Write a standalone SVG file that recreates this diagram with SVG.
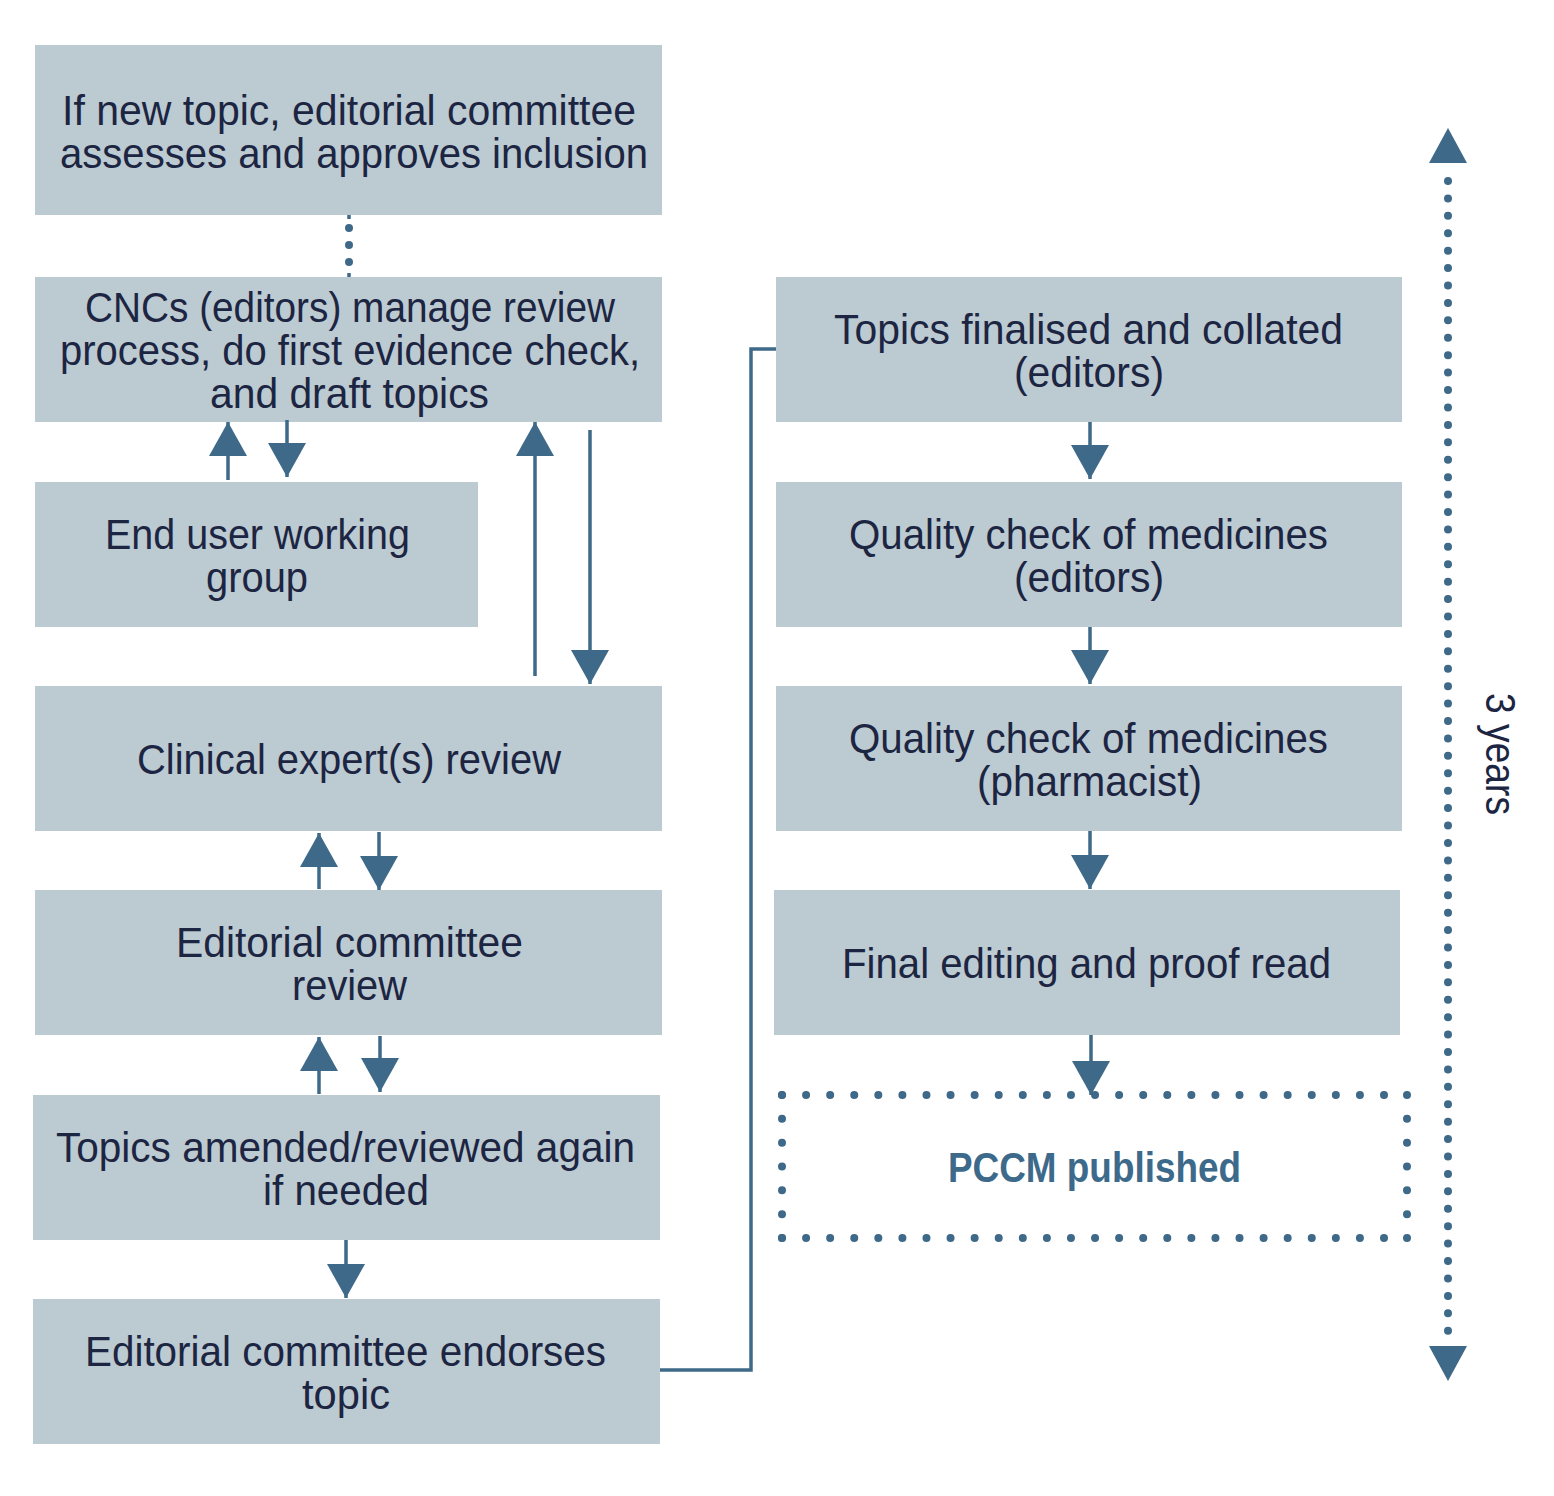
<svg xmlns="http://www.w3.org/2000/svg" width="1554" height="1496" viewBox="0 0 1554 1496">
<style>
.box{fill:#bccad2;}
.t{font-family:"Liberation Sans",Arial,sans-serif;font-size:43px;fill:#1c2541;}
.pub{font-family:"Liberation Sans",Arial,sans-serif;font-size:42px;font-weight:bold;fill:#3d6a8b;}
.ln{stroke:#3e6988;stroke-width:3.5;fill:none;}
.ar{stroke:#3e6988;stroke-width:3.5;fill:none;marker-end:url(#ah);}
.dot{stroke:#3e6988;stroke-width:8;stroke-linecap:round;fill:none;}
</style>
<defs>
<marker id="ah" markerUnits="userSpaceOnUse" markerWidth="36" markerHeight="40" refX="34" refY="19" orient="auto">
<path d="M0,0 L34,19 L0,38 Z" fill="#3e6988"/>
</marker>
</defs>
<rect width="1554" height="1496" fill="#ffffff"/>

<g id="n1"><rect class="box" x="35" y="45" width="627" height="170"/>
<text class="t" x="62" y="125" textLength="574" lengthAdjust="spacingAndGlyphs">If new topic, editorial committee</text>
<text class="t" x="60" y="168" textLength="588" lengthAdjust="spacingAndGlyphs">assesses and approves inclusion</text></g>

<g id="n2"><rect class="box" x="35" y="277" width="627" height="145"/>
<text class="t" x="85" y="322" textLength="530" lengthAdjust="spacingAndGlyphs">CNCs (editors) manage review</text>
<text class="t" x="60" y="365" textLength="580" lengthAdjust="spacingAndGlyphs">process, do first evidence check,</text>
<text class="t" x="210" y="408" textLength="279" lengthAdjust="spacingAndGlyphs">and draft topics</text></g>

<g id="n3"><rect class="box" x="35" y="482" width="443" height="145"/>
<text class="t" x="105" y="549" textLength="305" lengthAdjust="spacingAndGlyphs">End user working</text>
<text class="t" x="206" y="592" textLength="102" lengthAdjust="spacingAndGlyphs">group</text></g>

<g id="n4"><rect class="box" x="35" y="686" width="627" height="145"/>
<text class="t" x="137" y="774" textLength="424" lengthAdjust="spacingAndGlyphs">Clinical expert(s) review</text></g>

<g id="n5"><rect class="box" x="35" y="890" width="627" height="145"/>
<text class="t" x="176" y="957" textLength="347" lengthAdjust="spacingAndGlyphs">Editorial committee</text>
<text class="t" x="292" y="1000" textLength="115" lengthAdjust="spacingAndGlyphs">review</text></g>

<g id="n6"><rect class="box" x="33" y="1095" width="627" height="145"/>
<text class="t" x="56" y="1162" textLength="579" lengthAdjust="spacingAndGlyphs">Topics amended/reviewed again</text>
<text class="t" x="263" y="1205" textLength="166" lengthAdjust="spacingAndGlyphs">if needed</text></g>

<g id="n7"><rect class="box" x="33" y="1299" width="627" height="145"/>
<text class="t" x="85" y="1366" textLength="521" lengthAdjust="spacingAndGlyphs">Editorial committee endorses</text>
<text class="t" x="302" y="1409" textLength="88" lengthAdjust="spacingAndGlyphs">topic</text></g>

<g id="r1"><rect class="box" x="776" y="277" width="626" height="145"/>
<text class="t" x="834" y="344" textLength="509" lengthAdjust="spacingAndGlyphs">Topics finalised and collated</text>
<text class="t" x="1014" y="387" textLength="150" lengthAdjust="spacingAndGlyphs">(editors)</text></g>

<g id="r2"><rect class="box" x="776" y="482" width="626" height="145"/>
<text class="t" x="849" y="549" textLength="479" lengthAdjust="spacingAndGlyphs">Quality check of medicines</text>
<text class="t" x="1014" y="592" textLength="150" lengthAdjust="spacingAndGlyphs">(editors)</text></g>

<g id="r3"><rect class="box" x="776" y="686" width="626" height="145"/>
<text class="t" x="849" y="753" textLength="479" lengthAdjust="spacingAndGlyphs">Quality check of medicines</text>
<text class="t" x="977" y="796" textLength="225" lengthAdjust="spacingAndGlyphs">(pharmacist)</text></g>

<g id="r4"><rect class="box" x="774" y="890" width="626" height="145"/>
<text class="t" x="842" y="978" textLength="489" lengthAdjust="spacingAndGlyphs">Final editing and proof read</text></g>

<g id="r5">
<path class="dot" d="M782,1095 H1408" stroke-dasharray="0 24.08"/>
<path class="dot" d="M782,1238 H1408" stroke-dasharray="0 24.08"/>
<path class="dot" d="M782,1095 V1238" stroke-dasharray="0 23.83"/>
<path class="dot" d="M1407,1095 V1238" stroke-dasharray="0 23.83"/>
<text class="pub" x="948" y="1182" textLength="293" lengthAdjust="spacingAndGlyphs">PCCM published</text></g>

<g id="timeline">
<path class="dot" d="M1448,181 V1331" stroke-dasharray="0 17.42"/>
<path d="M1448,128 L1467,163 L1429,163 Z" fill="#3e6988"/>
<path d="M1448,1381 L1467,1346 L1429,1346 Z" fill="#3e6988"/>
<text class="t" transform="translate(1486,754) rotate(90)" x="0" y="0" text-anchor="middle" font-size="40" textLength="122" lengthAdjust="spacingAndGlyphs">3 years</text>
</g>

<g id="connectors">
<path class="dot" d="M349,228 V264" stroke-dasharray="0 17" stroke-width="8"/>
<path class="ln" d="M349,215 V219 M349,273 V277" stroke-width="3"/>
<path class="ar" d="M228,480 V422"/>
<path class="ar" d="M287,420 V477"/>
<path class="ar" d="M535,676 V422"/>
<path class="ar" d="M590,430 V684"/>
<path class="ar" d="M319,889 V833"/>
<path class="ar" d="M379,832 V890"/>
<path class="ar" d="M319,1094 V1037"/>
<path class="ar" d="M380,1036 V1092"/>
<path class="ar" d="M346,1240 V1298"/>
<path class="ar" d="M1090,422 V479"/>
<path class="ar" d="M1090,627 V684"/>
<path class="ar" d="M1090,831 V889"/>
<path class="ar" d="M1091,1035 V1095"/>
<path class="ln" d="M660,1370 H751 V349 H776"/>
</g>
</svg>
